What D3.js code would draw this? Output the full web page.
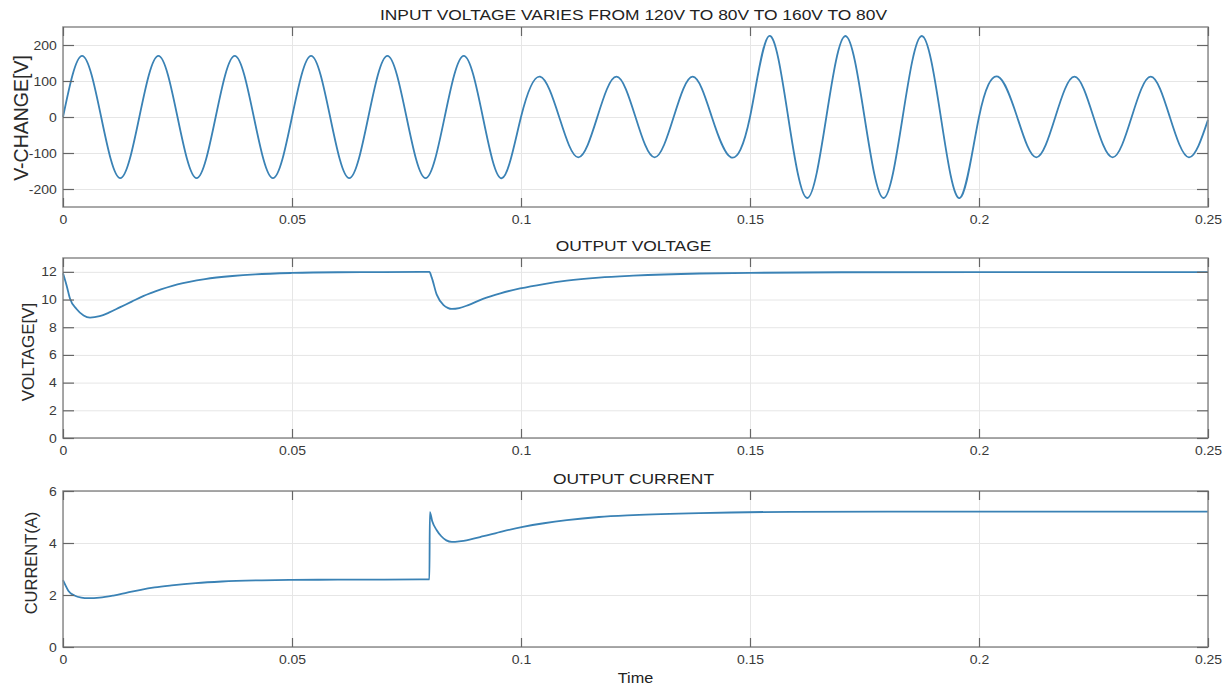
<!DOCTYPE html>
<html><head><meta charset="utf-8">
<script src="https://cdn.jsdelivr.net/npm/d3@7"></script>
<style>
body{margin:0;background:#fff}
svg{display:block}
text{font-family:"Liberation Sans",Arial,sans-serif}
</style>
</head><body>
<svg id="c" width="1230" height="688"></svg>
<script>
// ---------- data ----------
const xTicks = [0, 0.05, 0.1, 0.15, 0.2, 0.25];
const xTickLabels = ["0", "0.05", "0.1", "0.15", "0.2", "0.25"];

// input voltage sampled every quarter period (60 Hz -> 1/240 s)
const vinStep = 1 / 240;
const vinValues = [
  0, 170, 0, -170, 0, 170, 0, -170, 0, 170, 0, -170,
  0, 170, 0, -170, 0, 170, 0, -170, 0, 170, 0, -170,
  0, 112, 0, -112, 0, 112, 0, -112, 0, 112, 0, -112,
  0, 225, 0, -225, 0, 225, 0, -225, 0, 225, 0, -225,
  0, 112, 0, -112, 0, 112, 0, -112, 0, 112, 0, -112,
  -8
];
const vinTicks = [-200, -100, 0, 100, 200];

const voutTimes = [0, 0.0008, 0.0015, 0.003, 0.0045, 0.0059, 0.008, 0.010, 0.0125, 0.015, 0.0175, 0.02, 0.025, 0.031, 0.037, 0.042, 0.05, 0.06, 0.07, 0.08,
  0.0805, 0.0816, 0.0831, 0.084, 0.0849, 0.0865, 0.0885, 0.0917, 0.0955, 0.0998, 0.105, 0.11, 0.117, 0.1245, 0.139, 0.15, 0.17, 0.2, 0.25];
const voutValues = [11.9, 11.0, 10.1, 9.3, 8.85, 8.7, 8.8, 9.05, 9.45, 9.85, 10.25, 10.57, 11.1, 11.48, 11.7, 11.82, 11.92, 11.97, 11.98, 12.0,
  11.6, 10.35, 9.6, 9.4, 9.32, 9.38, 9.6, 10.05, 10.45, 10.8, 11.12, 11.36, 11.58, 11.72, 11.88, 11.93, 11.97, 11.98, 11.98];
const voutTicks = [0, 2, 4, 6, 8, 10, 12];

const ioutTimes = [0, 0.0006, 0.0012, 0.0025, 0.004, 0.0055, 0.008, 0.011, 0.014, 0.017, 0.020, 0.0237, 0.029, 0.0347, 0.0434, 0.05, 0.06, 0.08,
  0.0801, 0.0806, 0.0816, 0.0826, 0.0837, 0.0849, 0.0865, 0.089, 0.0918, 0.096, 0.1004, 0.105, 0.11, 0.117, 0.1245, 0.139, 0.159, 0.18, 0.2, 0.25];
const ioutValues = [2.57, 2.35, 2.15, 1.98, 1.9, 1.88, 1.9, 1.98, 2.09, 2.2, 2.29, 2.37, 2.46, 2.52, 2.565, 2.58, 2.59, 2.6,
  5.19, 4.85, 4.49, 4.26, 4.1, 4.04, 4.06, 4.14, 4.26, 4.45, 4.62, 4.76, 4.88, 5.0, 5.07, 5.15, 5.2, 5.21, 5.21, 5.21];
const ioutTicks = [0, 2, 4, 6];

const titles = ["INPUT VOLTAGE VARIES FROM 120V TO 80V TO 160V TO 80V", "OUTPUT VOLTAGE", "OUTPUT CURRENT"];
const yLabels = ["V-CHANGE[V]", "VOLTAGE[V]", "CURRENT(A)"];
const xLabel = "Time";

// ---------- drawing ----------
const S = 1.12;   // horizontal text stretch of the reference
const ST = 1.16;  // title stretch
const L = 63, R = 1208, W = R - L;
const svg = d3.select("#c");
const x = d3.scaleLinear().domain([0, 0.25]).range([L, R]);

const panels = [
  { top: 27, bottom: 207, domain: [-250, 250], ticks: vinTicks,
    data: vinValues.map((v, i) => [i * vinStep, v]), curve: d3.curveNatural,
    title: titles[0], ylab: yLabels[0], ylabX: 21, ylabY: 118, ylabSize: 19.5 },
  { top: 258, bottom: 438, domain: [0, 13], ticks: voutTicks,
    data: voutTimes.map((t, i) => [t, voutValues[i]]), curve: d3.curveMonotoneX,
    title: titles[1], ylab: yLabels[1], ylabX: 28, ylabY: 352, ylabSize: 17 },
  { top: 491, bottom: 647, domain: [0, 6], ticks: ioutTicks,
    data: ioutTimes.map((t, i) => [t, ioutValues[i]]), curve: d3.curveMonotoneX,
    title: titles[2], ylab: yLabels[2], ylabX: 31, ylabY: 563, ylabSize: 16.5 }
];

function clean(sel, color, width) {
  sel.select(".domain").remove();
  sel.selectAll(".tick line").attr("stroke", color).attr("stroke-width", width);
}

panels.forEach(p => {
  const y = d3.scaleLinear().domain(p.domain).range([p.bottom, p.top]);
  const h = p.bottom - p.top;
  const g = svg.append("g");

  // grid
  g.append("g").attr("transform", `translate(0,${p.bottom})`)
    .call(d3.axisBottom(x).tickValues(xTicks).tickSize(-h).tickFormat(""))
    .call(s => clean(s, "#e6e6e6", 1));
  g.append("g").attr("transform", `translate(${L},0)`)
    .call(d3.axisLeft(y).tickValues(p.ticks).tickSize(-W).tickFormat(""))
    .call(s => clean(s, "#e6e6e6", 1));

  // data line
  g.append("path").datum(p.data)
    .attr("fill", "none").attr("stroke", "#3a82b5").attr("stroke-width", 1.8)
    .attr("stroke-linejoin", "round")
    .attr("d", d3.line().x(d => x(d[0])).y(d => y(d[1])).curve(p.curve));

  // box
  g.append("rect").attr("x", L).attr("y", p.top).attr("width", W).attr("height", h)
    .attr("fill", "none").attr("stroke", "#8c8c8c").attr("stroke-width", 1.5);

  // inward ticks on all four sides
  g.append("g").attr("transform", `translate(${L},0)`)
    .call(d3.axisLeft(y).tickValues(p.ticks).tickSize(-11).tickFormat(""))
    .call(s => clean(s, "#666", 1.2));
  g.append("g").attr("transform", `translate(${R},0)`)
    .call(d3.axisRight(y).tickValues(p.ticks).tickSize(-11).tickFormat(""))
    .call(s => clean(s, "#666", 1.2));
  g.append("g").attr("transform", `translate(0,${p.bottom})`)
    .call(d3.axisBottom(x).tickValues(xTicks).tickSize(-9).tickFormat(""))
    .call(s => clean(s, "#666", 1.2));
  g.append("g").attr("transform", `translate(0,${p.top})`)
    .call(d3.axisTop(x).tickValues(xTicks).tickSize(-9).tickFormat(""))
    .call(s => clean(s, "#666", 1.2));

  // tick labels
  const yl = g.append("g").attr("transform", `translate(${L},0)`)
    .call(d3.axisLeft(y).tickValues(p.ticks).tickSize(0).tickPadding(5.5).tickFormat(d => String(d)));
  yl.select(".domain").remove();
  yl.selectAll("text").attr("transform", `scale(${S},1)`)
    .attr("font-size", 12.5).attr("fill", "#3a3a3a")
    .attr("font-family", '"Liberation Sans",Arial,sans-serif');

  const xl = g.append("g").attr("transform", `translate(0,${p.bottom})`)
    .call(d3.axisBottom(x).tickValues(xTicks).tickSize(0).tickPadding(8).tickFormat((d, i) => xTickLabels[i]));
  xl.select(".domain").remove();
  xl.selectAll("text").attr("transform", `scale(${S},1)`)
    .attr("font-size", 12.5).attr("fill", "#3a3a3a")
    .attr("font-family", '"Liberation Sans",Arial,sans-serif');

  // title
  g.append("g").attr("transform", `translate(${(L + R) / 2 - 2},${p.top - 7}) scale(${ST},1)`)
    .append("text").attr("text-anchor", "middle").attr("font-size", 15)
    .attr("fill", "#222").text(p.title);

  // y label
  g.append("text")
    .attr("transform", `translate(${p.ylabX},${p.ylabY}) rotate(-90)`)
    .attr("text-anchor", "middle").attr("dy", "0.35em")
    .attr("font-size", p.ylabSize).attr("fill", "#2a2a2a").text(p.ylab);
});

// x label
svg.append("g").attr("transform", `translate(${(L + R) / 2},683) scale(${S},1)`)
  .append("text").attr("text-anchor", "middle").attr("font-size", 14.5)
  .attr("fill", "#222").text(xLabel);
</script>
</body></html>
